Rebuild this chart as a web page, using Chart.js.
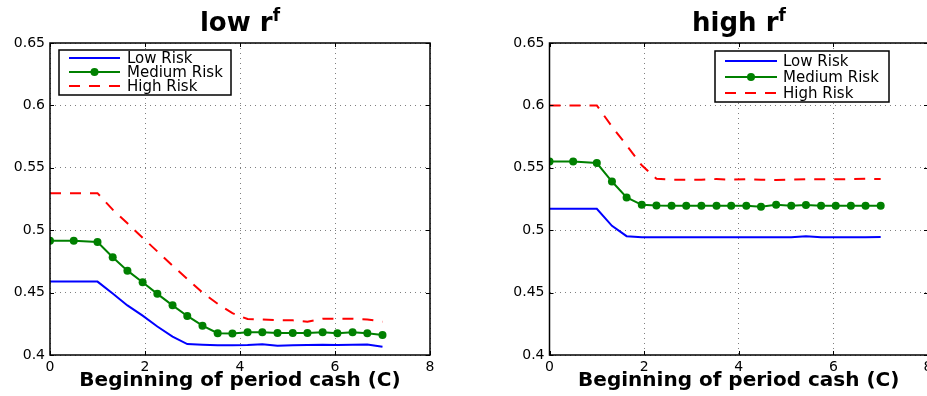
<!DOCTYPE html>
<html>
<head>
<meta charset="utf-8">
<script src="https://cdn.jsdelivr.net/npm/chart.js@4"></script>
<style>
    html, body { margin: 0; padding: 0; background: #fff; }
    body { width: 927px; height: 396px; overflow: hidden; position: relative; }
    .panel { position: absolute; top: 0; }
    .ttl {
        position: absolute; top: 9px; height: 30px; line-height: 26px;
        text-align: center; font-family: 'DejaVu Sans', sans-serif;
        font-weight: bold; font-size: 26px; color: #000;
    }
    .ttl sup { font-size: 17px; vertical-align: 10px; line-height: 0; }
</style>
</head>
<body>
<div class="panel" style="left:0;width:463px;height:396px"><canvas id="lowChart" width="463" height="396"></canvas></div>
<div class="panel" style="left:463px;width:480px;height:396px"><canvas id="highChart" width="480" height="396"></canvas></div>
<div class="ttl" style="left:50px;width:380px">low r<sup>f</sup></div>
<div class="ttl" style="left:550px;width:378px">high r<sup>f</sup></div>
<script>
// Data
const cash = [0, 0.5, 1, 1.32, 1.63, 1.95, 2.26, 2.58, 2.89, 3.21, 3.53, 3.84, 4.16, 4.47, 4.79, 5.11, 5.42, 5.74, 6.05, 6.37, 6.68, 7];

const lowRfLow    = [0.4588, 0.4588, 0.4588, 0.4493, 0.4397, 0.4315, 0.4228, 0.4148, 0.4088, 0.4083, 0.4078, 0.4078, 0.4080, 0.4086, 0.4075, 0.4078, 0.4080, 0.4082, 0.4080, 0.4082, 0.4084, 0.4067];
const lowRfMedium = [0.4915, 0.4915, 0.4905, 0.4784, 0.4676, 0.4583, 0.4490, 0.4398, 0.4313, 0.4235, 0.4175, 0.4172, 0.4182, 0.4182, 0.4177, 0.4177, 0.4177, 0.4182, 0.4174, 0.4182, 0.4174, 0.4160];
const lowRfHigh   = [0.5297, 0.5297, 0.5297, 0.5165, 0.5055, 0.4940, 0.4830, 0.4715, 0.4610, 0.4500, 0.4410, 0.4335, 0.4288, 0.4285, 0.4280, 0.4278, 0.4267, 0.4290, 0.4290, 0.4290, 0.4285, 0.4267];

const highRfLow    = [0.5171, 0.5171, 0.5171, 0.5035, 0.4952, 0.4943, 0.4943, 0.4944, 0.4943, 0.4943, 0.4944, 0.4943, 0.4943, 0.4943, 0.4943, 0.4944, 0.4952, 0.4943, 0.4943, 0.4943, 0.4943, 0.4945];
const highRfMedium = [0.5550, 0.5550, 0.5538, 0.5390, 0.5262, 0.5203, 0.5197, 0.5196, 0.5196, 0.5196, 0.5196, 0.5196, 0.5196, 0.5188, 0.5203, 0.5196, 0.5202, 0.5196, 0.5196, 0.5196, 0.5196, 0.5196];
const highRfHigh   = [0.6000, 0.6000, 0.6000, 0.5830, 0.5680, 0.5520, 0.5412, 0.5405, 0.5405, 0.5405, 0.5410, 0.5405, 0.5408, 0.5405, 0.5402, 0.5405, 0.5408, 0.5408, 0.5408, 0.5410, 0.5412, 0.5410];

const seriesNames = ['Low Risk', 'Medium Risk', 'High Risk'];
const xTicks = [0, 2, 4, 6, 8];
const xTickLabels = ['0', '2', '4', '6', '8'];
const yTicks = [0.4, 0.45, 0.5, 0.55, 0.6, 0.65];
const yTickLabels = ['0.4', '0.45', '0.5', '0.55', '0.6', '0.65'];
const xTitle = 'Beginning of period cash (C)';

const FONT = "'DejaVu Sans', sans-serif";

function points(ys) {
    return cash.map((x, i) => ({ x: x, y: ys[i] }));
}

// box around the axes, inward ticks, and the boxed legend
const framePlugin = {
    id: 'frame',
    afterDraw(chart, args, opts) {
        const ctx = chart.ctx;
        const a = chart.chartArea;
        const xs = chart.scales.x, ys = chart.scales.y;
        ctx.save();
        ctx.strokeStyle = '#000';
        ctx.lineWidth = 1.5;
        ctx.setLineDash([]);
        ctx.strokeRect(a.left, a.top, a.right - a.left, a.bottom - a.top);

        ctx.lineWidth = 1;
        ctx.beginPath();
        xTicks.forEach(v => {
            const px = Math.round(xs.getPixelForValue(v)) + 0.5;
            ctx.moveTo(px, a.bottom); ctx.lineTo(px, a.bottom - 4);
            ctx.moveTo(px, a.top); ctx.lineTo(px, a.top + 4);
        });
        yTicks.forEach(v => {
            const py = Math.round(ys.getPixelForValue(v)) + 0.5;
            ctx.moveTo(a.left, py); ctx.lineTo(a.left + 4, py);
            ctx.moveTo(a.right, py); ctx.lineTo(a.right - 4, py);
        });
        ctx.stroke();

        const lg = opts.legend;
        if (lg) {
            ctx.fillStyle = '#fff';
            ctx.fillRect(lg.x, lg.y, lg.w, lg.h);
            ctx.lineWidth = 1.5;
            ctx.strokeStyle = '#000';
            ctx.strokeRect(lg.x, lg.y, lg.w, lg.h);
            ctx.font = '15px ' + FONT;
            ctx.textBaseline = 'middle';
            ctx.textAlign = 'left';
            chart.data.datasets.forEach((ds, i) => {
                const cy = lg.y + lg.rows[i];
                ctx.strokeStyle = ds.borderColor;
                ctx.lineWidth = ds.borderWidth;
                ctx.setLineDash(ds.borderDash || []);
                ctx.beginPath();
                ctx.moveTo(lg.x0, cy);
                ctx.lineTo(lg.x1, cy);
                ctx.stroke();
                ctx.setLineDash([]);
                if (ds.pointRadius > 0) {
                    ctx.fillStyle = ds.pointBackgroundColor;
                    ctx.beginPath();
                    ctx.arc((lg.x0 + lg.x1) / 2, cy, ds.pointRadius, 0, Math.PI * 2);
                    ctx.fill();
                }
                ctx.fillStyle = '#000';
                ctx.fillText(ds.label, lg.tx, cy + 1);
            });
        }
        ctx.restore();
    }
};

function makeChart(id, low, medium, high, yWidth, padRight, legend) {
    const ctx = document.getElementById(id).getContext('2d');
    return new Chart(ctx, {
        type: 'line',
        data: {
            datasets: [
                {
                    label: seriesNames[0],
                    data: points(low),
                    borderColor: '#0000ff',
                    borderWidth: 2,
                    pointRadius: 0,
                    tension: 0
                },
                {
                    label: seriesNames[1],
                    data: points(medium),
                    borderColor: '#008000',
                    backgroundColor: '#008000',
                    pointBackgroundColor: '#008000',
                    borderWidth: 2,
                    pointRadius: 4,
                    pointBorderWidth: 0,
                    tension: 0
                },
                {
                    label: seriesNames[2],
                    data: points(high),
                    borderColor: '#ff0000',
                    borderWidth: 2,
                    borderDash: [11, 9],
                    pointRadius: 0,
                    tension: 0
                }
            ]
        },
        options: {
            responsive: false,
            animation: false,
            layout: { padding: { top: 43, right: padRight, bottom: 3, left: 0 } },
            plugins: {
                legend: { display: false },
                tooltip: { enabled: false },
                frame: { legend: legend }
            },
            scales: {
                x: {
                    type: 'linear',
                    min: 0,
                    max: 8,
                    afterBuildTicks: s => { s.ticks = xTicks.map(v => ({ value: v })); },
                    afterFit: s => { s.height = 38; },
                    grid: {
                        color: 'rgba(0,0,0,0.5)',
                        drawTicks: false,
                        lineWidth: 1
                    },
                    border: { display: false, dash: [1, 4] },
                    ticks: {
                        padding: 4,
                        color: '#000',
                        font: { family: FONT, size: 14 },
                        maxRotation: 0,
                        callback: (v, i) => xTickLabels[i]
                    },
                    title: {
                        display: true,
                        text: xTitle,
                        color: '#000',
                        padding: 0,
                        font: { family: FONT, size: 20, weight: 'bold' }
                    }
                },
                y: {
                    min: 0.4,
                    max: 0.65,
                    afterBuildTicks: s => { s.ticks = yTicks.map(v => ({ value: v })); },
                    afterFit: s => { s.width = yWidth; },
                    grid: {
                        color: 'rgba(0,0,0,0.5)',
                        drawTicks: false,
                        lineWidth: 1
                    },
                    border: { display: false, dash: [1, 4] },
                    ticks: {
                        padding: 5,
                        color: '#000',
                        font: { family: FONT, size: 14 },
                        callback: (v, i) => yTickLabels[i]
                    }
                }
            }
        },
        plugins: [framePlugin]
    });
}

makeChart('lowChart', lowRfLow, lowRfMedium, lowRfHigh, 50, 33,
    { x: 59, y: 50, w: 172, h: 45, rows: [8, 22, 36], x0: 69, x1: 120, tx: 127 });
makeChart('highChart', highRfLow, highRfMedium, highRfHigh, 86.5, 15,
    { x: 252, y: 51, w: 174, h: 51, rows: [10, 26, 42], x0: 262, x1: 314, tx: 320 });
</script>
</body>
</html>
